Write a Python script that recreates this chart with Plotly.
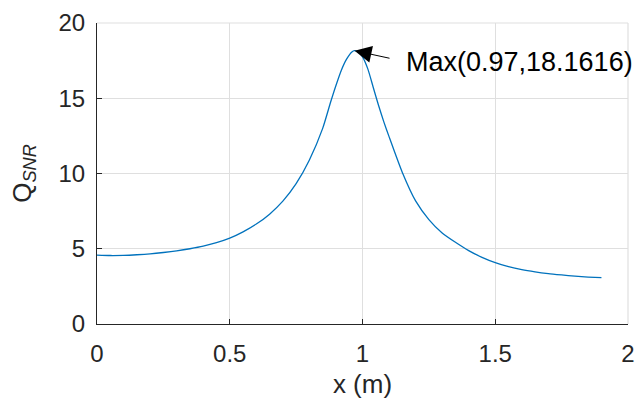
import plotly.graph_objects as go

x_vals = [0, 0.05, 0.1, 0.15, 0.2, 0.25, 0.3, 0.35, 0.4, 0.45, 0.5, 0.55, 0.6, 0.65,
          0.7, 0.75, 0.8, 0.85, 0.88, 0.9, 0.92, 0.94, 0.96, 0.97, 0.98, 1.0, 1.02,
          1.04, 1.06, 1.08, 1.1, 1.15, 1.2, 1.25, 1.3, 1.35, 1.4, 1.45, 1.5, 1.55,
          1.6, 1.65, 1.7, 1.75, 1.8, 1.85, 1.9]
q_snr = [4.58, 4.55, 4.56, 4.6, 4.66, 4.75, 4.86, 5.0, 5.17, 5.4, 5.7, 6.12, 6.64, 7.3,
         8.16, 9.32, 10.9, 13.0, 14.75, 15.85, 16.85, 17.6, 18.08, 18.1616, 18.12, 17.75, 16.95,
         15.75, 14.55, 13.45, 12.45, 10.07, 8.18, 6.94, 6.05, 5.43, 4.88, 4.43, 4.08, 3.82,
         3.62, 3.47, 3.35, 3.26, 3.18, 3.12, 3.08]

x_ticks = [0, 0.5, 1, 1.5, 2]
x_tick_labels = ["0", "0.5", "1", "1.5", "2"]
y_ticks = [0, 5, 10, 15, 20]
y_tick_labels = ["0", "5", "10", "15", "20"]

max_x = 0.97
max_y = 18.1616
max_label = "Max(0.97,18.1616)"

FONT = "Liberation Sans, Arial, Helvetica, sans-serif"
AXC = "#262626"
GRID = "#dfdfdf"

fig = go.Figure()
fig.add_trace(go.Scatter(x=x_vals, y=q_snr, mode="lines",
                         line=dict(color="#0072BD", width=1.3, shape="spline", smoothing=0.6),
                         showlegend=False, hoverinfo="skip"))

# top and right frame edges drawn as grid-coloured lines (MATLAB box off + grid)
fig.add_shape(type="line", xref="paper", yref="paper", x0=0, x1=1, y0=1, y1=1,
              line=dict(color=GRID, width=1.2), layer="above")
fig.add_shape(type="line", xref="paper", yref="paper", x0=1, x1=1, y0=0, y1=1,
              line=dict(color=GRID, width=1.2), layer="above")

fig.add_annotation(x=max_x, y=max_y, xref="x", yref="y", text=" ", showarrow=True,
                   ax=37, ay=8, arrowhead=2, arrowsize=3.4, arrowwidth=1.0, arrowcolor="black",
                   font=dict(size=2))
fig.add_annotation(x=1.158, y=17.43, xref="x", yref="y", text=max_label, showarrow=False,
                   xanchor="left", yanchor="middle", font=dict(family=FONT, size=27, color="black"))

fig.update_layout(
    width=636, height=401,
    margin=dict(l=97, r=8, t=23, b=77, autoexpand=False),
    paper_bgcolor="white", plot_bgcolor="white",
    font=dict(family=FONT, size=24, color=AXC),
)
fig.update_xaxes(range=[0, 2], tickvals=x_ticks, ticktext=x_tick_labels, automargin=False,
                 showline=True, linecolor=AXC, linewidth=1, ticks="inside", ticklen=5,
                 tickcolor=AXC, showgrid=True, gridcolor=GRID, gridwidth=1, zeroline=False,
                 tickfont=dict(family=FONT, size=24, color=AXC), ticklabelstandoff=8,
                 title=dict(text="x (m)", font=dict(family=FONT, size=26, color=AXC), standoff=9))
fig.update_yaxes(range=[0, 20], tickvals=y_ticks, ticktext=y_tick_labels, automargin=False,
                 showline=True, linecolor=AXC, linewidth=1, ticks="inside", ticklen=5,
                 tickcolor=AXC, showgrid=True, gridcolor=GRID, gridwidth=1, zeroline=False,
                 tickfont=dict(family=FONT, size=24, color=AXC), ticklabelstandoff=6,
                 title=dict(text="Q<sub><i>SNR</i></sub>", font=dict(family=FONT, size=26, color=AXC), standoff=19))

fig.write_html("out.html")
